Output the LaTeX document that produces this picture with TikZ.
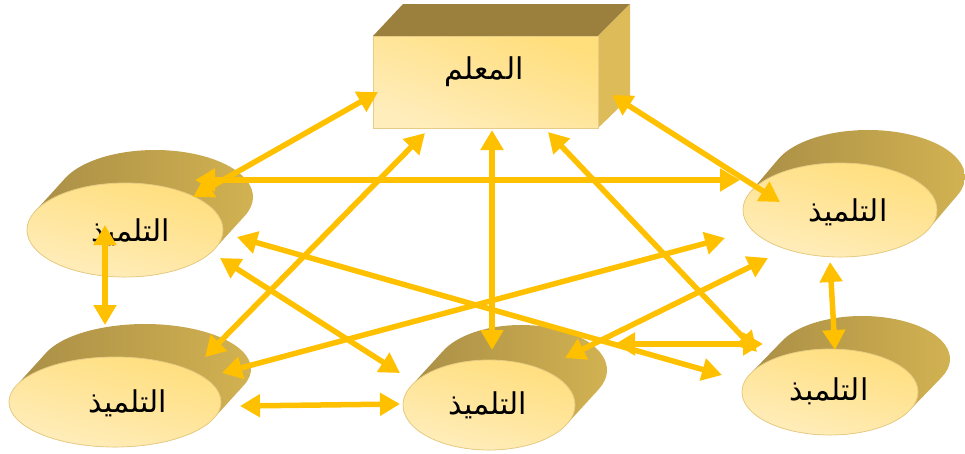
\documentclass[tikz,border=0pt]{standalone}
\usepackage{fontspec}
\newfontfamily\arabicfont[Script=Arabic]{DejaVu Sans}
\TeXXeTstate=1
\usetikzlibrary{arrows.meta}
\definecolor{arrowc}{HTML}{FFC000}
\definecolor{topface}{HTML}{9A7F3D}
\definecolor{rightface}{HTML}{DDBB58}
\definecolor{frontA}{HTML}{FFDE7C}
\definecolor{frontB}{HTML}{FFF4D8}
\definecolor{frontC}{HTML}{FFEDBC}
\definecolor{sideL}{HTML}{A68B45}
\definecolor{sideM}{HTML}{8A7032}
\definecolor{sideR}{HTML}{D4B452}
\definecolor{rim}{HTML}{E6CC84}
\newcommand\pupil[7]{%
  \pgfmathsetmacro\tang{atan(-(#5)*(#6)/((#4)*(#7)))}%
  \pgfmathsetmacro\px{(#4)*cos(\tang)}%
  \pgfmathsetmacro\py{(#5)*sin(\tang)}%
  \shade[left color=sideL, middle color=sideM, right color=sideR]
    ({#2-\px},{#3-\py}) -- ({#2-\px+#6},{#3-\py+#7})
    arc[start angle=\tang+180, end angle=\tang+360, x radius=#4, y radius=#5]
    -- ({#2+\px},{#3+\py})
    arc[start angle=\tang, end angle=\tang+180, x radius=#4, y radius=#5] -- cycle;
  \shade[top color=frontA, middle color=frontB, bottom color=frontC, shading angle=-15]
    (#2,#3) ellipse[x radius=#4, y radius=#5];
  \draw[rim, line width=0.8pt] (#2,#3) ellipse[x radius=#4, y radius=#5];
}
\begin{document}
\begin{tikzpicture}[x=1pt,y=-1pt,
  link/.style={draw=arrowc, line width=5.5pt,
    {Triangle[length=20pt,width=22pt]}-{Triangle[length=20pt,width=22pt]}},
  lbl/.style={font=\arabicfont\fontsize{30}{30}\selectfont, inner sep=0pt, text=black}]
\useasboundingbox (0,0) rectangle (965,453);
% teacher box
\fill[topface] (373,36) -- (403,4) -- (630,4) -- (598,36) -- cycle;
\fill[rightface] (598,36) -- (630,4) -- (630,97) -- (598,128) -- cycle;
\shade[top color=frontA, middle color=frontB, bottom color=frontC, shading angle=-20]
  (373,36) rectangle (598,128);
\draw[rim, line width=0.8pt] (373,36) rectangle (598,128);
\node[lbl] (t) at (484,72) {\beginR المعلم\endR};
% pupils
\pupil{s1}{125}{230}{98}{47}{30}{-33}
\pupil{s2}{840}{210}{97}{47}{28}{-33}
\pupil{s3}{115}{402}{106}{45}{30}{-33}
\pupil{s4}{489}{405}{86}{45}{32}{-35}
\pupil{s5}{830}{392}{88}{43}{32}{-33}
\node[lbl] (s1) at (131,232) {\beginR التلميذ\endR};
\node[lbl] (s2) at (848,212) {\beginR التلميذ\endR};
\node[lbl] (s3) at (128,403) {\beginR التلميذ\endR};
\node[lbl] (s4) at (488,405) {\beginR التلميذ\endR};
\node[lbl] (s5) at (829,391) {\beginR التلمبذ\endR};
% arrow end points
\coordinate (t-w) at (378,92);   \coordinate (s1-t) at (193,197);
\coordinate (t-b1) at (425,133); \coordinate (s3-t) at (205,357);
\coordinate (t-b2) at (492,130); \coordinate (s4-t) at (492,350);
\coordinate (t-b3) at (548,132); \coordinate (s5-t) at (757,352);
\coordinate (t-e) at (612,95);   \coordinate (s2-t) at (780,202);
\coordinate (s1-e) at (195,180); \coordinate (s2-w) at (740,180);
\coordinate (s1-s) at (105,225); \coordinate (s3-n) at (105,325);
\coordinate (s1-se) at (237,237); \coordinate (s5-w) at (722,375);
\coordinate (s1-sse) at (220,258); \coordinate (s4-nw) at (400,373);
\coordinate (s3-ne) at (222,373); \coordinate (s2-sw) at (725,238);
\coordinate (s4-ne) at (565,358); \coordinate (s2-ssw) at (768,258);
\coordinate (s3-e) at (240,406); \coordinate (s4-w) at (400,404);
\coordinate (s4-e) at (615,344); \coordinate (s5-nw) at (763,344);
\coordinate (s2-s) at (830,262); \coordinate (s5-n) at (835,350);
% connectors
\draw[link] (t-w) -- (s1-t);
\draw[link] (t-b1) -- (s3-t);
\draw[link] (t-b2) -- (s4-t);
\draw[link] (t-b3) -- (s5-t);
\draw[link] (t-e) -- (s2-t);
\draw[link] (s1-e) -- (s2-w);
\draw[link] (s1-s) -- (s3-n);
\draw[link] (s1-se) -- (s5-w);
\draw[link] (s1-sse) -- (s4-nw);
\draw[link] (s3-ne) -- (s2-sw);
\draw[link] (s4-ne) -- (s2-ssw);
\draw[link] (s3-e) -- (s4-w);
\draw[link] (s4-e) -- (s5-nw);
\draw[link] (s2-s) -- (s5-n);
\end{tikzpicture}
\end{document}
